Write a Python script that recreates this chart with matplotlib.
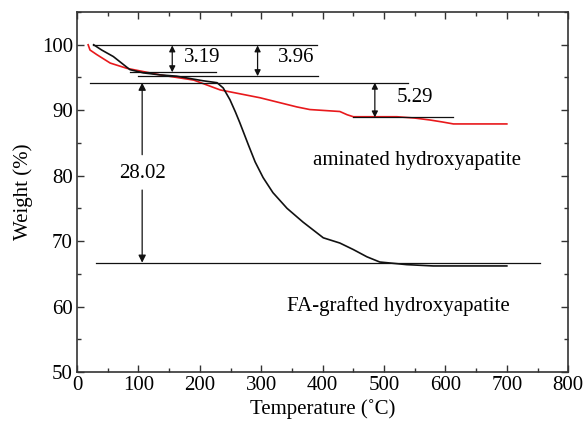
import matplotlib
matplotlib.use("Agg")
import matplotlib.pyplot as plt
from matplotlib.ticker import MultipleLocator

plt.rcParams['font.family'] = ['Liberation Serif', 'DejaVu Serif']

# FA-grafted hydroxyapatite (black)
fa_T = [27, 40, 59, 86, 108, 135, 162, 205, 228, 238, 249, 258, 265, 272, 279, 290, 303, 319, 342, 368, 401, 428, 450, 472, 493, 537, 580, 640, 700]
fa_W = [100.0, 99.2, 98.2, 96.2, 95.7, 95.4, 95.2, 94.5, 94.2, 93.4, 91.6, 89.7, 88.1, 86.4, 84.7, 82.1, 79.7, 77.4, 75.0, 72.9, 70.5, 69.7, 68.7, 67.6, 66.8, 66.4, 66.2, 66.2, 66.2]

# aminated hydroxyapatite (red)
am_T = [18, 21, 32, 54, 81, 135, 190, 233, 298, 358, 379, 428, 440, 450, 480, 521, 550, 575, 595, 613, 640, 673, 700]
am_W = [100.0, 99.2, 98.5, 97.2, 96.4, 95.4, 94.6, 93.1, 91.9, 90.5, 90.1, 89.8, 89.3, 89.0, 89.0, 89.0, 88.8, 88.5, 88.2, 87.9, 87.9, 87.9, 87.9]

# annotation values
step_labels = ['3.19', '3.96', '5.29', '28.02']
names = ['aminated hydroxyapatite', 'FA-grafted hydroxyapatite']

fig = plt.figure(figsize=(5.84, 4.30), dpi=100)
ax = fig.add_axes([0.132, 0.135, 0.841, 0.837])

ax.plot(am_T, am_W, color='#e8191c', lw=1.2)
ax.plot(fa_T, fa_W, color='#111111', lw=1.2)

lc = '#111111'
lw = 0.9
# horizontal reference lines
ax.plot([26, 391], [99.9, 99.9], color=lc, lw=lw)
ax.plot([86, 226], [95.8, 95.8], color=lc, lw=lw)
ax.plot([100, 392], [95.2, 95.2], color=lc, lw=lw)
ax.plot([21, 539], [94.2, 94.2], color=lc, lw=lw)
ax.plot([450, 612], [88.9, 88.9], color=lc, lw=lw)
ax.plot([31, 754], [66.7, 66.7], color=lc, lw=lw)

ap = dict(arrowstyle='<|-|>', color=lc, lw=0.9, mutation_scale=9, shrinkA=0, shrinkB=0)
ax.annotate('', xy=(155, 99.9), xytext=(155, 95.8), arrowprops=ap)
ax.annotate('', xy=(294, 99.9), xytext=(294, 95.2), arrowprops=ap)
ax.annotate('', xy=(485, 94.2), xytext=(485, 88.9), arrowprops=ap)
ap1 = dict(arrowstyle='-|>', color=lc, lw=0.9, mutation_scale=11, shrinkA=0, shrinkB=0)
ax.annotate('', xy=(106, 94.2), xytext=(106, 83.2), arrowprops=ap1)
ax.annotate('', xy=(106, 66.7), xytext=(106, 77.8), arrowprops=ap1)

fs = 15
ax.text(174, 98.0, step_labels[0], fontsize=fs, ha='left', va='center')
ax.text(327, 98.0, step_labels[1], fontsize=fs, ha='left', va='center')
ax.text(521, 91.9, step_labels[2], fontsize=fs, ha='left', va='center')
ax.text(106, 80.4, step_labels[3], fontsize=fs, ha='center', va='center')
ax.text(554, 82.3, names[0], fontsize=fs, ha='center', va='center')
ax.text(523, 60.0, names[1], fontsize=fs, ha='center', va='center')

ax.set_xlim(0, 800)
ax.set_ylim(50, 105)
ax.xaxis.set_major_locator(MultipleLocator(100))
ax.xaxis.set_minor_locator(MultipleLocator(50))
ax.yaxis.set_minor_locator(MultipleLocator(5))
ax.set_yticks([50, 60, 70, 80, 90, 100])
ax.tick_params(which='both', direction='in', top=True, right=True, labelsize=fs, color='#333333')
ax.tick_params(which='major', length=5, width=1, pad=3)
ax.tick_params(which='minor', length=3, width=1)
for s in ax.spines.values():
    s.set_color('#333333')
    s.set_linewidth(1.2)
ax.set_xlabel('Temperature (˚C)', fontsize=fs, labelpad=3)
ax.set_ylabel('Weight (%)', fontsize=fs, labelpad=6)

fig.savefig('out.png', dpi=100)
